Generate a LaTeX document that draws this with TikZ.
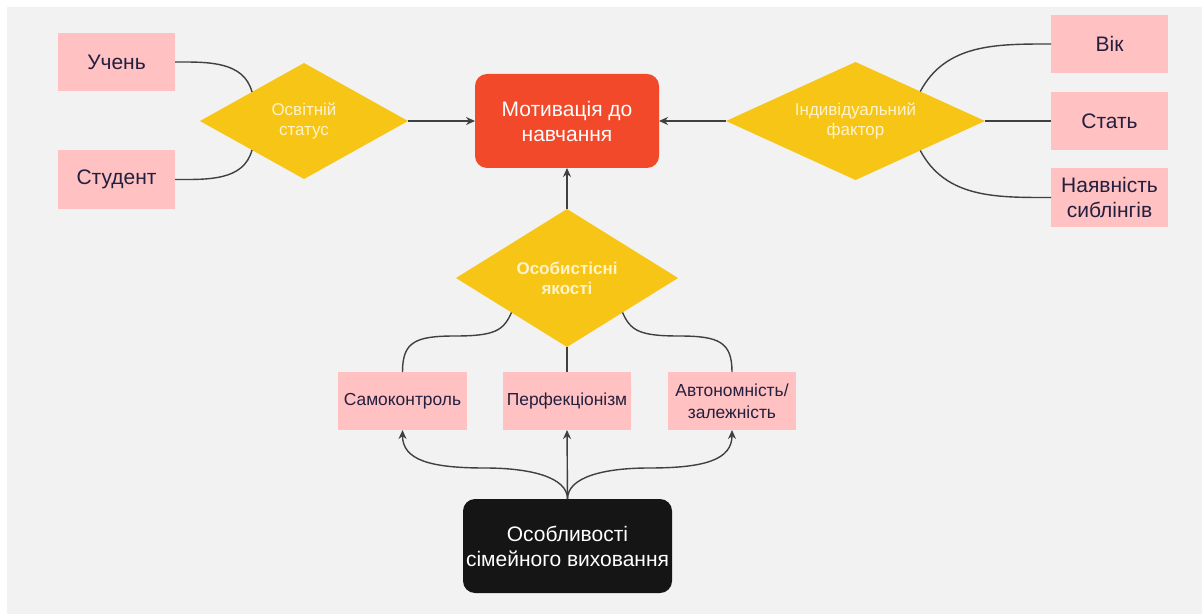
\documentclass[tikz,border=0pt]{standalone}
\usepackage{fontspec}
\setmainfont{Liberation Sans}
\usetikzlibrary{shapes.geometric,arrows.meta}
\definecolor{bgc}{HTML}{F2F2F2}
\definecolor{pinkc}{HTML}{FFC1C1}
\definecolor{navyc}{HTML}{231F3F}
\definecolor{yelc}{HTML}{F7C515}
\definecolor{creamc}{HTML}{FFF3CC}
\definecolor{orc}{HTML}{F1492A}
\definecolor{blk}{HTML}{151515}
\definecolor{linec}{HTML}{404040}
\begin{document}
\begin{tikzpicture}[x=0.5pt,y=-0.5pt,
  pinkbox/.style={rectangle, fill=pinkc, text=navyc, font=\fontsize{10.5}{12.5}\selectfont, align=center, inner sep=0pt, outer sep=0pt},
  smallbox/.style={pinkbox, font=\fontsize{8.7}{11}\selectfont},
  dia/.style={diamond, fill=yelc, text=creamc, font=\fontsize{8.5}{10}\selectfont, align=center, inner sep=0pt, outer sep=0pt},
  bigbox/.style={rectangle, rounded corners=6pt, text=white, font=\fontsize{10.5}{12.5}\selectfont, align=center, inner sep=0pt, outer sep=0pt},
  link/.style={draw=linec, line width=0.7pt},
  arr/.style={link, -{Stealth[length=4.5pt,width=4pt]}}]
\useasboundingbox (0,0) rectangle (1202,614);
\fill[white] (0,0) rectangle (1202,614);
\fill[bgc] (7,7) rectangle (1202,614);

% nodes
\node[pinkbox, minimum width=58.5pt, minimum height=29pt] (uch) at (116.5,62) {Учень};
\node[pinkbox, minimum width=58.5pt, minimum height=29.5pt] (stu) at (116.5,179.5) {Студент};
\node[dia, minimum width=104pt, minimum height=58pt, aspect=1.79] (osv) at (304,121) {Освітній\\статус};
\node[bigbox, fill=orc, minimum width=92pt, minimum height=47pt] (mot) at (567,121) {Мотивація до\\навчання};
\node[dia, minimum width=129.5pt, minimum height=59pt, aspect=2.19] (ind) at (855.5,121) {Індивідуальний\\фактор};
\node[pinkbox, minimum width=58.5pt, minimum height=29pt] (vik) at (1109.5,44) {Вік};
\node[pinkbox, minimum width=58.5pt, minimum height=29pt] (stat) at (1109.5,121) {Стать};
\node[pinkbox, minimum width=58.5pt, minimum height=29.5pt] (nay) at (1109.5,197.5) {Наявність\\сиблінгів};
\node[dia, font=\fontsize{8.5}{10}\selectfont\bfseries, minimum width=111pt, minimum height=69pt, aspect=1.61] (os) at (567,278) {Особистісні\\якості};
\node[smallbox, minimum width=64.5pt, minimum height=29pt] (sam) at (402.5,401) {Самоконтроль};
\node[smallbox, minimum width=64pt, minimum height=29pt] (perf) at (567,401) {Перфекціонізм};
\node[smallbox, minimum width=64pt, minimum height=29pt] (aut) at (732,401) {Автономність/\\залежність};
\node[bigbox, fill=blk, minimum width=104.5pt, minimum height=47pt] (fam) at (567.5,546) {Особливості\\сімейного виховання};

% connectors
\draw[link] (uch.east) to[out=0,in=105] (osv.north west);
\draw[link] (stu.east) to[out=0,in=-105] (osv.south west);
\draw[arr] (osv.east) -- (mot.west);
\draw[arr] (ind.west) -- (mot.east);
\draw[link] (ind.north east) to[out=62,in=180] (vik.west);
\draw[link] (ind.east) -- (stat.west);
\draw[link] (ind.south east) to[out=-62,in=180] (nay.west);
\draw[arr] (os.north) -- (mot.south);
\draw[link] (os.south west) .. controls +(-8,18) and +(40,0) .. (455,336) .. controls +(-40,0) and +(0,-30) .. (sam.north);
\draw[link] (os.south) -- (perf.north);
\draw[link] (os.south east) .. controls +(8,18) and +(-40,0) .. (679,336) .. controls +(40,0) and +(0,-30) .. (aut.north);
\draw[arr] (fam.north) .. controls +(0,-22) and +(45,0) .. (485,468) .. controls +(-55,0) and +(0,30) .. (sam.south);
\draw[arr] (fam.north) -- (perf.south);
\draw[arr] (fam.north) .. controls +(0,-22) and +(-45,0) .. (649,468) .. controls +(55,0) and +(0,30) .. (aut.south);
\end{tikzpicture}
\end{document}
